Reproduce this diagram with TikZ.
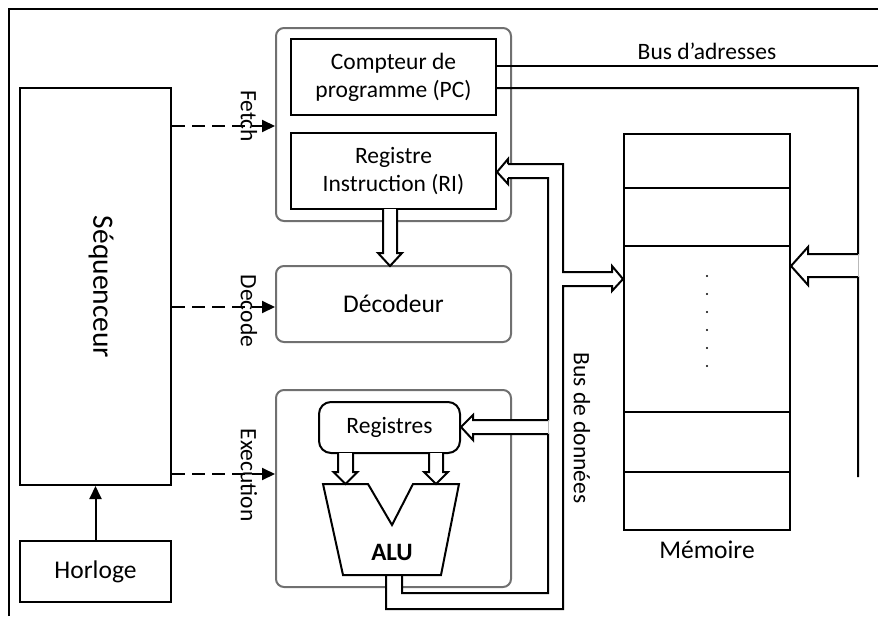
\documentclass[tikz,border=0pt]{standalone}
\usepackage{fontspec}
\setmainfont{Carlito}
\usetikzlibrary{arrows.meta,calc}
\definecolor{grpgray}{RGB}{112,112,112}
\begin{document}
\begin{tikzpicture}[x=1pt,y=-1pt,
  every node/.style={font=\fontsize{23.5}{28}\selectfont},
  midfont/.style={font=\fontsize{25.5}{30}\selectfont},
  blk/.style={draw,line width=2pt,inner sep=0pt},
  grp/.style={draw=grpgray,line width=2pt,rounded corners=8pt,inner sep=0pt},
  ln/.style={line width=2pt},
  dasharrow/.style={line width=2pt,dash pattern=on 13pt off 7pt,-{Triangle[length=13pt,width=12pt]}},
  solidarrow/.style={line width=2pt,-{Triangle[length=13pt,width=12pt]}},
  hollow/.style={draw,fill=white,line width=2pt,line join=miter},
  seam/.style={draw=gray!55,line width=0.6pt},
]
\useasboundingbox (0,0) rectangle (878,616);

% frame edges
\draw[line width=2.5pt] (9,616) -- (9,9) -- (878,9);

% sequencer and clock
\node[blk,minimum width=151pt,minimum height=397pt] (seq) at (95.5,286.5) {};
\node[rotate=-90,font=\fontsize{29.5}{32}\selectfont] (seqlbl) at (101,287) {Séquenceur};
\node[blk,minimum width=151pt,minimum height=61pt,midfont] (horloge) at (95.5,571.5) {Horloge};
\draw[solidarrow] (horloge.north) -- (seq.south);

% fetch group
\node[grp,minimum width=235pt,minimum height=193pt] (fetchgrp) at (393.5,124.5) {};
\node[blk,minimum width=205pt,minimum height=76pt,align=center] (pc) at (393.5,77) {Compteur de\\programme (PC)};
\node[blk,minimum width=205pt,minimum height=76pt,align=center] (ri) at (393.5,171) {Registre\\Instruction (RI)};

% decoder
\node[grp,minimum width=235pt,minimum height=76pt,midfont] (dec) at (393.5,304) {Décodeur};

% execution group
\node[grp,minimum width=235pt,minimum height=197pt] (execgrp) at (393.5,488.5) {};
\node[draw,line width=2pt,rounded corners=12pt,minimum width=141pt,minimum height=51pt,inner sep=0pt] (reg) at (389.5,427.5) {Registres};
\draw[ln,line join=miter] (323,484) -- (368,484) -- (392,525) -- (413,484) -- (459,484) -- (441,575) -- (343,575) -- cycle;
\node[font=\fontsize{25}{30}\selectfont\bfseries] (alu) at (392,552) {ALU};

% control signals
\coordinate (fA) at ($(fetchgrp.west)+(0,1.5)$);
\coordinate (dA) at ($(dec.west)+(0,3)$);
\coordinate (eA) at ($(execgrp.west)+(0,-14.5)$);
\draw[dasharrow] (seq.east |- fA) -- (fA);
\draw[dasharrow] (seq.east |- dA) -- (dA);
\draw[dasharrow] (seq.east |- eA) -- (eA);
\node[rotate=-90] (lfetch) at (249,116) {Fetch};
\node[rotate=-90] (ldecode) at (249,311) {Decode};
\node[rotate=-90] (lexec) at (249,475) {Execution};

% internal wide arrows
\draw[hollow] (383,209) -- (383,253) -- (378,253) -- (390,266) -- (402,253) -- (397,253) -- (397,209);
\draw[hollow] (338,453) -- (338,472) -- (333.5,472) -- (345.5,484) -- (357.5,472) -- (353,472) -- (353,453);
\draw[hollow] (429,453) -- (429,472) -- (424,472) -- (436,484) -- (448,472) -- (443,472) -- (443,453);

% memory
\node[blk,minimum width=166pt,minimum height=396pt] (mem) at (707,332) {};
\foreach \dy in {55,113,279,339}
  \draw[ln] ($(mem.north west)+(0,\dy)$) -- ($(mem.north east)+(0,\dy)$);
\foreach \i in {0,...,5}
  \fill ($(mem.north)+(0,{143+18*\i})$) circle (1.1pt);
\node[midfont] (memlbl) at (707,550) {Mémoire};

% address bus
\coordinate (abusend) at (878,66);
\draw[ln] ($(pc.east)+(0,-11)$) -- (abusend);
\node (abuslbl) at (707,51) {Bus d’adresses};
\draw[ln,line join=miter] ($(pc.east)+(0,11)$) -- (858,88) -- (858,254) -- (808,254) -- (808,247) -- (mem.east |- 0,266) -- (808,285) -- (808,277) -- (858,277) -- (858,477);
\draw[seam] (858,254) -- (858,277);

% data bus: white channels across the group borders
\fill[white] (ri.east |- 0,172) -- (508,159) -- (508,164) -- (548,164) -- (548,178) -- (508,178) -- (508,184) -- cycle;
\fill[white] (reg.east |- 0,427) -- (473,415) -- (473,420) -- (548,420) -- (548,434) -- (473,434) -- (473,440) -- cycle;
\fill[white] (386,577) rectangle (402,593);
% data bus outlines
\draw[ln,line join=miter] (508,164) -- (563,164) -- (563,272) -- (612,272) -- (612,266) -- (mem.west |- 0,279) -- (612,291) -- (612,286) -- (563,286) -- (563,609) -- (386,609) -- (386,575);
\draw[ln,line join=miter] (508,178) -- (548,178) -- (548,420) -- (473,420) -- (473,415) -- (reg.east |- 0,427) -- (473,440) -- (473,434) -- (548,434) -- (548,593) -- (402,593) -- (402,575);
\draw[ln,line join=miter] (508,164) -- (508,159) -- (ri.east |- 0,172) -- (508,184) -- (508,178);
\draw[seam] (548,420) -- (548,434);
\node[rotate=-90] (dbuslbl) at (582,428) {Bus de données};
\end{tikzpicture}
\end{document}
